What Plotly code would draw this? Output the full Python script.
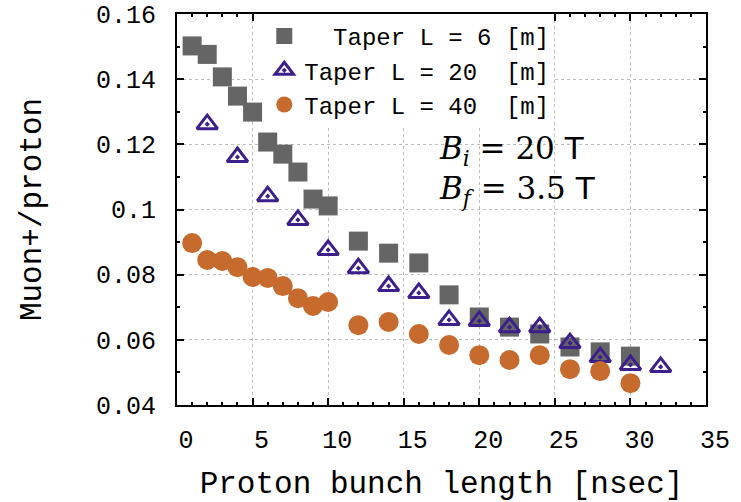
import plotly.graph_objects as go

# ---- data ----
x_l6 = [1, 2, 3, 4, 5, 6, 7, 8, 9, 10, 12, 14, 16, 18, 20, 22, 24, 26, 28, 30]
y_l6 = [0.1502, 0.1476, 0.1407, 0.1348, 0.1299, 0.1207, 0.1170, 0.1115, 0.1032, 0.1011,
        0.0903, 0.0866, 0.0836, 0.0738, 0.0670, 0.0639, 0.0618, 0.0578, 0.0563, 0.0550]

x_l20 = [2, 4, 6, 8, 10, 12, 14, 16, 18, 20, 22, 24, 26, 28, 30, 32]
y_l20 = [0.1262, 0.1161, 0.1041, 0.0968, 0.0876, 0.0820, 0.0765, 0.0744,
         0.0661, 0.0658, 0.0639, 0.0639, 0.0590, 0.0547, 0.0523, 0.0517]

x_l40 = [1, 2, 3, 4, 5, 6, 7, 8, 9, 10, 12, 14, 16, 18, 20, 22, 24, 26, 28, 30]
y_l40 = [0.0897, 0.0845, 0.0842, 0.0823, 0.0793, 0.0790, 0.0765, 0.0728, 0.0704, 0.0716,
         0.0645, 0.0655, 0.0618, 0.0584, 0.0553, 0.0538, 0.0553, 0.0510, 0.0504, 0.0467]

series_names = ["  Taper L = 6 [m]", "Taper L = 20  [m]", "Taper L = 40  [m]"]
x_title = "Proton bunch length [nsec]"
y_title = "Muon+/proton"
x_range = [0, 35]
y_range = [0.04, 0.16]

NB = "\u00a0"
def nb(s):
    return s.replace(" ", NB)

MONO = "Liberation Mono, Courier New, monospace"

fig = go.Figure()
fig.add_trace(go.Scatter(
    x=x_l6, y=y_l6, mode="markers", name=nb(series_names[0]),
    marker=dict(symbol="square", size=19, color="#656565", line=dict(width=0)),
))
fig.add_trace(go.Scatter(
    x=x_l20, y=y_l20, mode="markers", name=nb(series_names[1]),
    marker=dict(symbol="triangle-up-open-dot", size=18, color="#3d1f8c",
                line=dict(width=3, color="#3d1f8c")),
))
fig.add_trace(go.Scatter(
    x=x_l40, y=y_l40, mode="markers", name=nb(series_names[2]),
    marker=dict(symbol="circle", size=20, color="#c76a2e", line=dict(width=0)),
))

axis_common = dict(
    showline=True, linewidth=2, linecolor="black", mirror="ticks",
    ticks="inside", ticklen=7, tickwidth=2, tickcolor="black",
    showgrid=True, gridcolor="#bdbdbd", gridwidth=1, griddash="dot",
    zeroline=False,
    tickfont=dict(family=MONO, size=25, color="black"),
)

fig.update_xaxes(
    **axis_common,
    automargin=True,
    range=x_range, dtick=5, tick0=0,
    minor=dict(dtick=1, ticks="inside", ticklen=3, tickwidth=1.5, tickcolor="black", showgrid=False),
    ticklabelshift=9, ticklabelstandoff=11,
    title=dict(text=x_title, font=dict(family=MONO, size=31, color="black"), standoff=22),
)
fig.update_yaxes(
    **axis_common,
    automargin=False,
    range=y_range, dtick=0.02, tick0=0,
    minor=dict(dtick=0.01, ticks="inside", ticklen=3, tickwidth=1.5, tickcolor="black", showgrid=False),
    ticklabelstandoff=14,
    title=dict(text=y_title, font=dict(family=MONO, size=31, color="black"), standoff=45),
)

fig.add_annotation(
    xref="x", yref="y", x=17.2, y=0.1120, xanchor="left", yanchor="middle",
    align="left", showarrow=False,
    text=("<i>B</i><sub><i>i</i></sub> = 20 <span style='font-family:DejaVu Sans'>T</span><br>"
          "<i>B</i><sub><i>f</i></sub> = 3.5 <span style='font-family:DejaVu Sans'>T</span>"),
    font=dict(family="DejaVu Serif", size=31, color="black"),
)

fig.update_layout(
    width=741, height=502,
    margin=dict(l=177, r=35, t=14, b=97, autoexpand=False),
    paper_bgcolor="white", plot_bgcolor="white",
    legend=dict(x=0.165, y=1.0, xanchor="left", yanchor="top",
                bgcolor="white", borderwidth=0,
                font=dict(family=MONO, size=24, color="black"),
                tracegroupgap=0, itemwidth=30),
    showlegend=True,
)

fig.write_html("out.html", config={"displayModeBar": False},
               post_script="document.body.style.margin='0';")
